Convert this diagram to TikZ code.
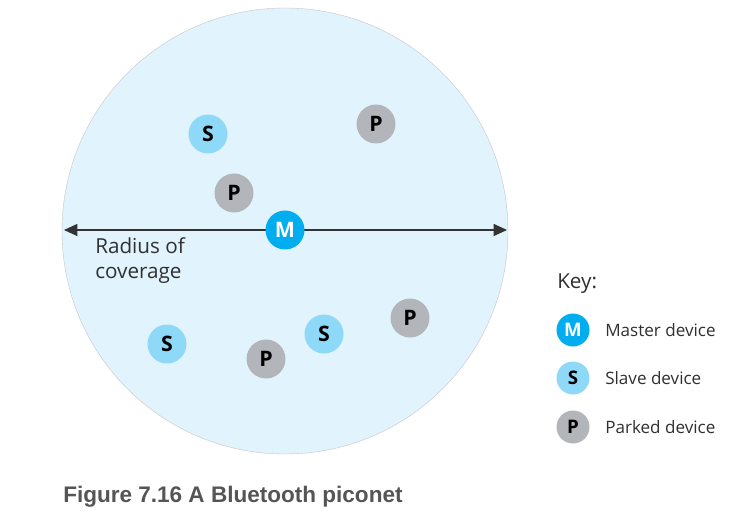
\documentclass[tikz,border=0pt]{standalone}
\usepackage{fontspec}
\setmainfont{Open Sans}
\newfontfamily\capfont{Liberation Sans}
\usetikzlibrary{arrows.meta}
\definecolor{zone}{HTML}{E1F3FD}
\definecolor{mcol}{HTML}{00AEEF}
\definecolor{scol}{HTML}{8ED8F8}
\definecolor{pcol}{HTML}{B2B5B9}
\definecolor{txt}{HTML}{303030}
\definecolor{captxt}{HTML}{555555}
\begin{document}
\begin{tikzpicture}[x=0.75pt, y=-0.75pt,
  dev/.style={circle, inner sep=0pt, minimum size=29.25pt, font=\fontsize{16}{18}\selectfont\bfseries},
  keydev/.style={dev, minimum size=24.75pt, font=\fontsize{14}{16}\selectfont\bfseries},
  mdev/.style={fill=mcol, text=white},
  sdev/.style={fill=scol, text=black},
  pdev/.style={fill=pcol, text=black},
  lbl/.style={text=txt, inner sep=0pt, font=\fontsize{15.5}{18.75}\selectfont},
  keytxt/.style={lbl, anchor=west, font=\fontsize{12.8}{15}\selectfont}]
\useasboundingbox (0,0) rectangle (730,516);
\fill[white] (0,0) rectangle (730,516);
\draw[fill=zone, draw=gray!45, line width=0.3pt] (285,231) circle[radius=223];
\coordinate (lft) at (64,230);
\coordinate (rgt) at (507,230);
\draw[black!80, line width=0.8pt, {Triangle[length=10pt,width=9pt]}-{Triangle[length=10pt,width=9pt]}] (lft) -- (rgt);
\node[dev, mdev] (m0) at (285,230) {M};
\node[dev, sdev] (s1) at (208,134) {S};
\node[dev, pdev] (p1) at (376,124) {P};
\node[dev, pdev] (p2) at (234,193) {P};
\node[dev, sdev] (s2) at (167,344) {S};
\node[dev, pdev] (p3) at (266,359) {P};
\node[dev, sdev] (s3) at (324,334) {S};
\node[dev, pdev] (p4) at (410,318) {P};
\node[lbl, anchor=north west, align=left] (radius) at (95,237) {Radius of\\coverage};

\node[lbl, anchor=base west, font=\fontsize{15.5}{18}\selectfont] (key) at (557,288) {Key:};
\node[keydev, mdev] (km) at (573,330) {M};
\node[keydev, sdev] (ks) at (573,378) {S};
\node[keydev, pdev] (kp) at (573,427) {P};
\node[keytxt] (kmt) at (605,330) {Master device};
\node[keytxt] (kst) at (605,378) {Slave device};
\node[keytxt] (kpt) at (605,427) {Parked device};

\node[text=captxt, anchor=base west, inner sep=0pt, font=\capfont\fontsize{16.9}{18}\selectfont\bfseries] (cap) at (63,502) {Figure 7.16 A Bluetooth piconet};
\end{tikzpicture}
\end{document}
